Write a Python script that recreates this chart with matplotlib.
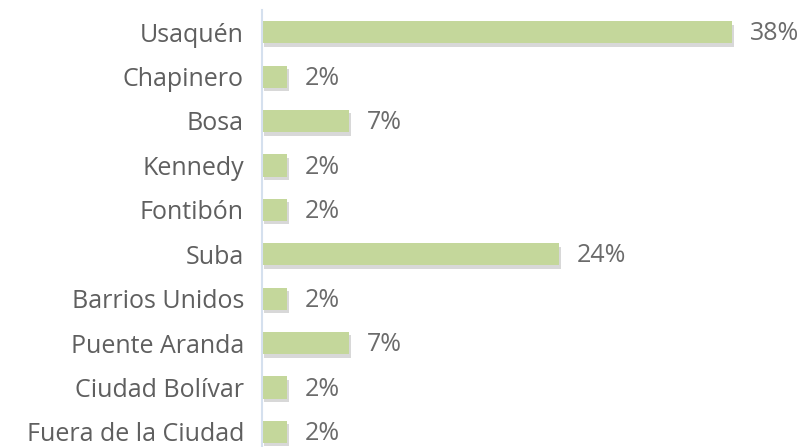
import matplotlib.pyplot as plt
import matplotlib.patheffects as pe

categorias = ['Usaquén', 'Chapinero', 'Bosa', 'Kennedy', 'Fontibón', 'Suba',
              'Barrios Unidos', 'Puente Aranda', 'Ciudad Bolívar', 'Fuera de la Ciudad']
valores = [38, 2, 7, 2, 2, 24, 2, 7, 2, 2]

plt.rcParams['font.family'] = ['Open Sans', 'DejaVu Sans']

fig = plt.figure(figsize=(8.03, 4.47), dpi=100)
# eje vertical en x=262 px, 12.37 px por punto porcentual, filas de 44.4 px
ax = fig.add_axes([262 / 803, -7 / 447, 40 * 12.37 / 803, 444 / 447])

y = list(range(len(categorias)))
barras = ax.barh(y, valores, height=0.5, color='#c4d79b')
for b in barras:
    b.set_path_effects([pe.SimplePatchShadow(offset=(1.5, -2.5), alpha=0.3, shadow_rgbFace='#808080'), pe.Normal()])

for yi, v in zip(y, valores):
    ax.text(v + 1.45, yi + 0.04, f'{v}%', va='center', ha='left', fontsize=18, color='#6b6b6b')

ax.set_xlim(0, 40)
ax.set_ylim(len(categorias) - 0.5, -0.5)
ax.set_yticks(y)
ax.set_yticklabels(categorias, fontsize=18, color='#5f5f5f')
ax.tick_params(axis='y', length=0, pad=13)
ax.set_xticks([])
for s in ['top', 'right', 'bottom']:
    ax.spines[s].set_visible(False)
ax.spines['left'].set_color('#d5e0ee')
ax.spines['left'].set_linewidth(1.5)

fig.savefig('out.png', dpi=100)
